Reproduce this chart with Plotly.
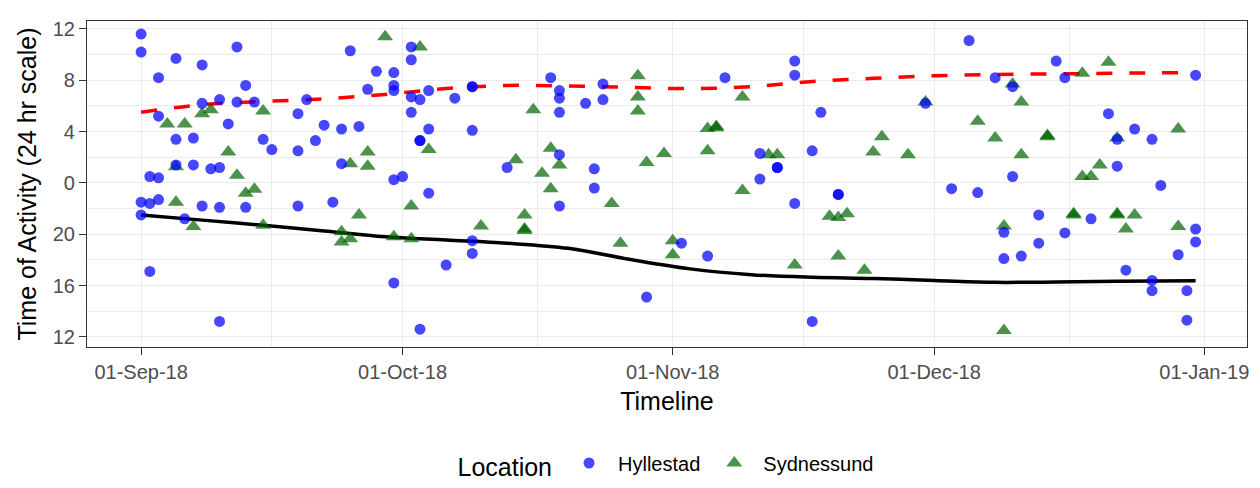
import plotly.graph_objects as go

# ---------------- data ----------------
hyl_dates = [
    "2018-09-01", "2018-09-01", "2018-09-01", "2018-09-01",
    "2018-09-02", "2018-09-02", "2018-09-02",
    "2018-09-03", "2018-09-03", "2018-09-03", "2018-09-03",
    "2018-09-05", "2018-09-05", "2018-09-05",
    "2018-09-06",
    "2018-09-07", "2018-09-07",
    "2018-09-08", "2018-09-08", "2018-09-08",
    "2018-09-09",
    "2018-09-10", "2018-09-10", "2018-09-10", "2018-09-10",
    "2018-09-11",
    "2018-09-12", "2018-09-12",
    "2018-09-13", "2018-09-13",
    "2018-09-14",
    "2018-09-15",
    "2018-09-16",
    "2018-09-19", "2018-09-19", "2018-09-19",
    "2018-09-20",
    "2018-09-21",
    "2018-09-22",
    "2018-09-23",
    "2018-09-24", "2018-09-24",
    "2018-09-25",
    "2018-09-26",
    "2018-09-27",
    "2018-09-28",
    "2018-09-30", "2018-09-30", "2018-09-30", "2018-09-30", "2018-09-30",
    "2018-10-01",
    "2018-10-02", "2018-10-02", "2018-10-02", "2018-10-02",
    "2018-10-03", "2018-10-03", "2018-10-03", "2018-10-03",
    "2018-10-04", "2018-10-04", "2018-10-04",
    "2018-10-06",
    "2018-10-07",
    "2018-10-09", "2018-10-09", "2018-10-09", "2018-10-09", "2018-10-09",
    "2018-10-13",
    "2018-10-18",
    "2018-10-19", "2018-10-19", "2018-10-19", "2018-10-19", "2018-10-19",
    "2018-10-22",
    "2018-10-23", "2018-10-23",
    "2018-10-24", "2018-10-24",
    "2018-10-29",
    "2018-11-02",
    "2018-11-05",
    "2018-11-07",
    "2018-11-11", "2018-11-11",
    "2018-11-13", "2018-11-13",
    "2018-11-15", "2018-11-15", "2018-11-15",
    "2018-11-17", "2018-11-17",
    "2018-11-18",
    "2018-11-20", "2018-11-20",
    "2018-11-30",
    "2018-12-03",
    "2018-12-05",
    "2018-12-06",
    "2018-12-08",
    "2018-12-09", "2018-12-09",
    "2018-12-10", "2018-12-10",
    "2018-12-11",
    "2018-12-13", "2018-12-13",
    "2018-12-15",
    "2018-12-16", "2018-12-16",
    "2018-12-19",
    "2018-12-21",
    "2018-12-22", "2018-12-22",
    "2018-12-23",
    "2018-12-24",
    "2018-12-26", "2018-12-26", "2018-12-26",
    "2018-12-27",
    "2018-12-29",
    "2018-12-30", "2018-12-30",
    "2018-12-31", "2018-12-31", "2018-12-31",
]
hyl_hours = [
    11.6, 10.2, -1.5, -2.5,
    0.5, -1.6, -6.9,
    8.2, 5.2, 0.4, -1.3,
    9.7, 3.4, 1.4,
    -2.8,
    3.5, 1.4,
    9.2, 6.2, -1.8,
    1.1,
    6.5, 1.2, -1.9, -10.8,
    4.6,
    10.6, 6.3,
    7.6, -1.9,
    6.3,
    3.4,
    2.6,
    5.4, 2.5, -1.8,
    6.5,
    3.3,
    4.5,
    -1.5,
    4.2, 1.5,
    10.3,
    4.4,
    7.3,
    8.7,
    8.6, 7.6, 7.2, 0.25, -7.8,
    0.5,
    10.6, 9.6, 6.7, 5.5,
    6.5, 3.3, 3.3, -11.4,
    7.2, 4.2, -0.8,
    -6.4,
    6.6,
    7.5, 7.5, 4.1, -4.5, -5.5,
    1.2,
    8.2,
    7.2, 6.6, 5.5, 2.2, -1.8,
    6.2,
    1.1, -0.4,
    7.7, 6.5,
    -8.9,
    -4.7,
    -5.7,
    8.2,
    2.3, 0.3,
    1.2, 1.2,
    9.5, 8.4, -1.6,
    2.5, -10.8,
    5.5,
    -0.9, -0.9,
    6.2,
    -0.45,
    11.1,
    -0.75,
    8.2,
    -3.85, -5.9,
    7.5, 0.5,
    -5.7,
    -2.5, -4.7,
    9.5,
    8.2, -3.9,
    -2.8,
    5.4,
    3.4, 1.3,
    -6.8,
    4.2,
    3.4, -7.6, -8.4,
    -0.2,
    -5.6,
    -8.4, -10.7,
    8.4, -3.6, -4.6,
]

syd_dates = [
    "2018-09-04",
    "2018-09-05", "2018-09-05",
    "2018-09-06",
    "2018-09-07",
    "2018-09-08",
    "2018-09-09",
    "2018-09-11",
    "2018-09-12",
    "2018-09-13",
    "2018-09-14",
    "2018-09-15", "2018-09-15",
    "2018-09-24", "2018-09-24",
    "2018-09-25", "2018-09-25",
    "2018-09-26",
    "2018-09-27", "2018-09-27",
    "2018-09-29",
    "2018-09-30",
    "2018-10-02", "2018-10-02",
    "2018-10-03",
    "2018-10-04",
    "2018-10-10",
    "2018-10-14",
    "2018-10-15", "2018-10-15", "2018-10-15",
    "2018-10-16",
    "2018-10-17",
    "2018-10-18", "2018-10-18",
    "2018-10-19",
    "2018-10-25",
    "2018-10-26",
    "2018-10-28", "2018-10-28", "2018-10-28",
    "2018-10-29",
    "2018-10-31",
    "2018-11-01", "2018-11-01",
    "2018-11-05", "2018-11-05",
    "2018-11-06", "2018-11-06",
    "2018-11-09", "2018-11-09",
    "2018-11-12",
    "2018-11-13",
    "2018-11-15",
    "2018-11-19",
    "2018-11-20", "2018-11-20",
    "2018-11-21",
    "2018-11-23",
    "2018-11-24",
    "2018-11-25",
    "2018-11-28",
    "2018-11-30",
    "2018-12-06",
    "2018-12-08",
    "2018-12-09", "2018-12-09",
    "2018-12-10",
    "2018-12-11", "2018-12-11",
    "2018-12-14", "2018-12-14",
    "2018-12-17", "2018-12-17",
    "2018-12-18", "2018-12-18",
    "2018-12-19",
    "2018-12-20",
    "2018-12-21",
    "2018-12-22", "2018-12-22", "2018-12-22",
    "2018-12-23",
    "2018-12-24",
    "2018-12-29", "2018-12-29",
]
syd_hours = [
    4.6,
    1.25, -1.5,
    4.6,
    -3.4,
    5.4,
    5.7,
    2.4,
    0.6,
    -0.8,
    -0.5,
    5.6, -3.3,
    -3.8, -4.6,
    1.5, -4.35,
    -2.5,
    2.4, 1.3,
    11.4,
    -4.2,
    -1.8, -4.35,
    10.6,
    2.6,
    -3.35,
    1.8,
    -2.5, -3.6, -3.7,
    5.7,
    0.75,
    2.7, -0.45,
    1.4,
    -1.6,
    -4.7,
    8.35, 6.7, 5.6,
    1.6,
    2.3,
    -4.5, -5.6,
    4.25, 2.5,
    4.4, 4.3,
    6.7, -0.6,
    2.2,
    2.2,
    -6.4,
    -2.6,
    -2.7, -5.7,
    -2.4,
    -6.8,
    2.4,
    3.6,
    2.2,
    6.3,
    4.8,
    3.5,
    -3.35, -11.5,
    7.7,
    6.3, 2.2,
    3.7, 3.6,
    -2.5, -2.4,
    8.55, 0.5,
    0.5,
    1.4,
    9.4,
    3.5, -2.5, -2.4,
    -3.6,
    -2.5,
    4.2, -3.4,
]

trend_dates = [
    "2018-09-01", "2018-09-08", "2018-09-15", "2018-09-22", "2018-09-29",
    "2018-10-06", "2018-10-13", "2018-10-20", "2018-10-27", "2018-11-03",
    "2018-11-10", "2018-11-17", "2018-11-24", "2018-12-01", "2018-12-08",
    "2018-12-15", "2018-12-22", "2018-12-31",
]
upper_trend = [5.5, 6.1, 6.35, 6.55, 6.9, 7.35, 7.6, 7.55, 7.45, 7.35,
               7.5, 7.9, 8.15, 8.35, 8.45, 8.5, 8.55, 8.6]
lower_trend = [-2.5, -2.9, -3.3, -3.75, -4.2, -4.45, -4.7, -5.1, -5.95, -6.7,
               -7.15, -7.35, -7.45, -7.6, -7.75, -7.72, -7.67, -7.62]

x_tick_dates = ["2018-09-01", "2018-10-01", "2018-11-01", "2018-12-01", "2019-01-01"]
x_tick_labels = ["01-Sep-18", "01-Oct-18", "01-Nov-18", "01-Dec-18", "01-Jan-19"]
x_minor_dates = ["2018-09-16", "2018-10-16 12:00", "2018-11-16", "2018-12-16 12:00"]
y_tick_vals = [-12, -8, -4, 0, 4, 8, 12]
y_tick_labels = ["12", "16", "20", "0", "4", "8", "12"]
y_minor_vals = [-10, -6, -2, 2, 6, 10]

# ---------------- figure ----------------
FONT = "Liberation Sans, Arial, Helvetica, sans-serif"
fig = go.Figure()

fig.add_trace(go.Scatter(
    x=trend_dates, y=lower_trend, mode="lines", showlegend=False,
    line=dict(color="black", width=3.5, shape="spline"), hoverinfo="skip"))
fig.add_trace(go.Scatter(
    x=trend_dates, y=upper_trend, mode="lines", showlegend=False,
    line=dict(color="red", width=3.5, dash="16px,17px", shape="spline"), hoverinfo="skip"))

fig.add_trace(go.Scatter(
    x=syd_dates, y=syd_hours, mode="markers", name="Sydnessund", legendrank=2,
    marker=dict(symbol="triangle-up", size=14, color="darkgreen", opacity=0.7,
                line=dict(width=0))))
fig.add_trace(go.Scatter(
    x=hyl_dates, y=hyl_hours, mode="markers", name="Hyllestad", legendrank=1,
    marker=dict(symbol="circle", size=11, color="blue", opacity=0.72,
                line=dict(width=0))))

fig.update_layout(
    width=1260, height=488,
    margin=dict(l=79, r=21, t=10, b=141),
    paper_bgcolor="white", plot_bgcolor="white",
    font=dict(family=FONT, color="black"),
    legend=dict(
        orientation="h", x=0.5, xanchor="center", y=-0.362, yanchor="middle",
        title=dict(text="Location", font=dict(size=25, color="black")),
        font=dict(size=20, color="black"),
        itemsizing="trace", itemwidth=48,
    ),
    showlegend=True,
)

fig.update_xaxes(
    type="date",
    range=["2018-08-25 19:00", "2019-01-05 21:30"],
    tickmode="array", tickvals=x_tick_dates, ticktext=x_tick_labels,
    tickfont=dict(size=20, color="#4D4D4D"),
    ticks="outside", ticklen=7, tickwidth=1.2, tickcolor="#333333",
    showgrid=True, gridcolor="#EBEBEB", gridwidth=1.4,
    minor=dict(tickmode="array", tickvals=x_minor_dates, showgrid=True,
               gridcolor="#EBEBEB", gridwidth=0.8, ticks=""),
    showline=True, linecolor="#333333", linewidth=1.2, mirror=True,
    zeroline=False,
    title=dict(text="Timeline", font=dict(size=25, color="black"), standoff=10),
)
fig.update_yaxes(
    range=[-12.79, 12.62],
    tickmode="array", tickvals=y_tick_vals, ticktext=y_tick_labels,
    tickfont=dict(size=20, color="#4D4D4D"),
    ticks="outside", ticklen=7, tickwidth=1.2, tickcolor="#333333",
    showgrid=True, gridcolor="#EBEBEB", gridwidth=1.4,
    minor=dict(tickmode="array", tickvals=y_minor_vals, showgrid=True,
               gridcolor="#EBEBEB", gridwidth=0.8, ticks=""),
    showline=True, linecolor="#333333", linewidth=1.2, mirror=True,
    zeroline=False,
    title=dict(text="Time of Activity (24 hr scale)", font=dict(size=25, color="black"),
               standoff=8),
)

fig.write_html("out.html")
